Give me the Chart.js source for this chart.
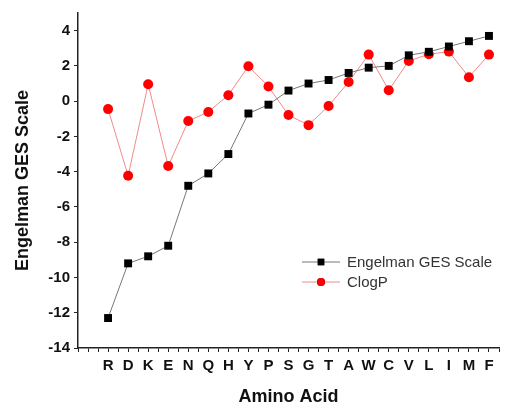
<!DOCTYPE html>
<html>
<head>
<meta charset="utf-8">
<script src="https://cdn.jsdelivr.net/npm/chart.js@4.4.1/dist/chart.umd.min.js"></script>
<style>
  html, body { margin: 0; padding: 0; background: #fff; }
  #wrap { width: 517px; height: 408px; }
</style>
</head>
<body>
<div id="wrap"><canvas id="gesChart" width="517" height="408"></canvas></div>
<script>
const aminoAcids = ['R','D','K','E','N','Q','H','Y','P','S','G','T','A','W','C','V','L','I','M','F'];
const gesScale = [-12.3, -9.2, -8.8, -8.2, -4.8, -4.1, -3.0, -0.7, -0.2, 0.6, 1.0, 1.2, 1.6, 1.9, 2.0, 2.6, 2.8, 3.1, 3.4, 3.7];
const clogP = [-0.45, -4.23, 0.96, -3.68, -1.13, -0.61, 0.34, 1.98, 0.83, -0.79, -1.36, -0.27, 1.09, 2.64, 0.62, 2.28, 2.66, 2.81, 1.36, 2.64];
const yTicks = [-14, -12, -10, -8, -6, -4, -2, 0, 2, 4];

const FONT = "'Liberation Sans', Arial, sans-serif";

// legend drawn inside the plot, line + marker like the original figure
const innerLegend = {
    id: 'innerLegend',
    afterDatasetsDraw(chart) {
        const ctx = chart.ctx;
        const rows = [262, 282];
        chart.data.datasets.forEach((ds, i) => {
            const y = rows[i];
            ctx.save();
            ctx.strokeStyle = ds.borderColor;
            ctx.lineWidth = 1;
            ctx.beginPath();
            ctx.moveTo(302, y);
            ctx.lineTo(340, y);
            ctx.stroke();
            Chart.helpers.drawPoint(ctx, {
                pointStyle: ds.pointStyle, radius: ds.pointStyle === 'rect' ? 4.6 : 4, borderWidth: 0
            }, 321, y);
            ctx.fillStyle = ds.pointBackgroundColor;
            ctx.fill();
            ctx.fillStyle = '#333';
            ctx.font = '15px ' + FONT;
            ctx.textBaseline = 'middle';
            ctx.fillText(ds.label, 347, y + 1);
            ctx.restore();
        });
    }
};

const ctx = document.getElementById('gesChart').getContext('2d');
new Chart(ctx, {
    type: 'line',
    data: {
        datasets: [{
            label: 'Engelman GES Scale',
            data: gesScale.map((v, i) => ({ x: i, y: v })),
            borderColor: '#777',
            borderWidth: 1,
            pointStyle: 'rect',
            pointRadius: 5.6,
            pointBackgroundColor: '#000',
            pointBorderWidth: 0,
            tension: 0
        }, {
            label: 'ClogP',
            data: clogP.map((v, i) => ({ x: i, y: v })),
            borderColor: '#f08a8a',
            borderWidth: 1,
            pointStyle: 'circle',
            pointRadius: 5,
            pointBackgroundColor: '#f00',
            pointBorderWidth: 0,
            tension: 0
        }]
    },
    options: {
        responsive: false,
        animation: false,
        layout: { padding: { top: 11, right: 18, left: 0, bottom: 0 } },
        plugins: { legend: { display: false }, tooltip: { enabled: false } },
        scales: {
            x: {
                type: 'linear',
                min: -1.5,
                max: 19.5,
                afterBuildTicks: scale => {
                    const t = [];
                    for (let v = -1.5; v <= 19.5; v += 0.5) t.push({ value: v });
                    scale.ticks = t;
                },
                afterFit: scale => { scale.height = 60; },
                ticks: {
                    autoSkip: false,
                    maxRotation: 0,
                    padding: 5,
                    color: '#111',
                    font: { family: FONT, size: 15, weight: 'bold' },
                    callback: v => Number.isInteger(v) && v >= 0 ? aminoAcids[v] : ''
                },
                grid: { drawOnChartArea: false, tickLength: 4, color: '#222', lineWidth: 1 },
                border: { color: '#222', width: 1.5 },
                title: {
                    display: true,
                    text: 'Amino Acid',
                    color: '#111',
                    padding: { top: 0, bottom: 0 },
                    font: { family: FONT, size: 18, weight: 'bold' }
                }
            },
            y: {
                min: -14,
                max: 5,
                afterBuildTicks: scale => {
                    const t = [];
                    for (let v = -14; v <= 5; v++) t.push({ value: v });
                    scale.ticks = t;
                },
                afterFit: scale => { scale.width = 78; },
                ticks: {
                    padding: 4,
                    color: '#111',
                    font: { family: FONT, size: 15, weight: 'bold' },
                    callback: v => yTicks.includes(v) ? String(v) : ''
                },
                grid: { drawOnChartArea: false, tickLength: 4, color: '#222', lineWidth: 1 },
                border: { color: '#222', width: 1.5 },
                title: {
                    display: true,
                    text: 'Engelman GES Scale',
                    color: '#111',
                    padding: { top: 12, bottom: 0 },
                    font: { family: FONT, size: 18, weight: 'bold' }
                }
            }
        }
    },
    plugins: [innerLegend]
});
</script>
</body>
</html>
